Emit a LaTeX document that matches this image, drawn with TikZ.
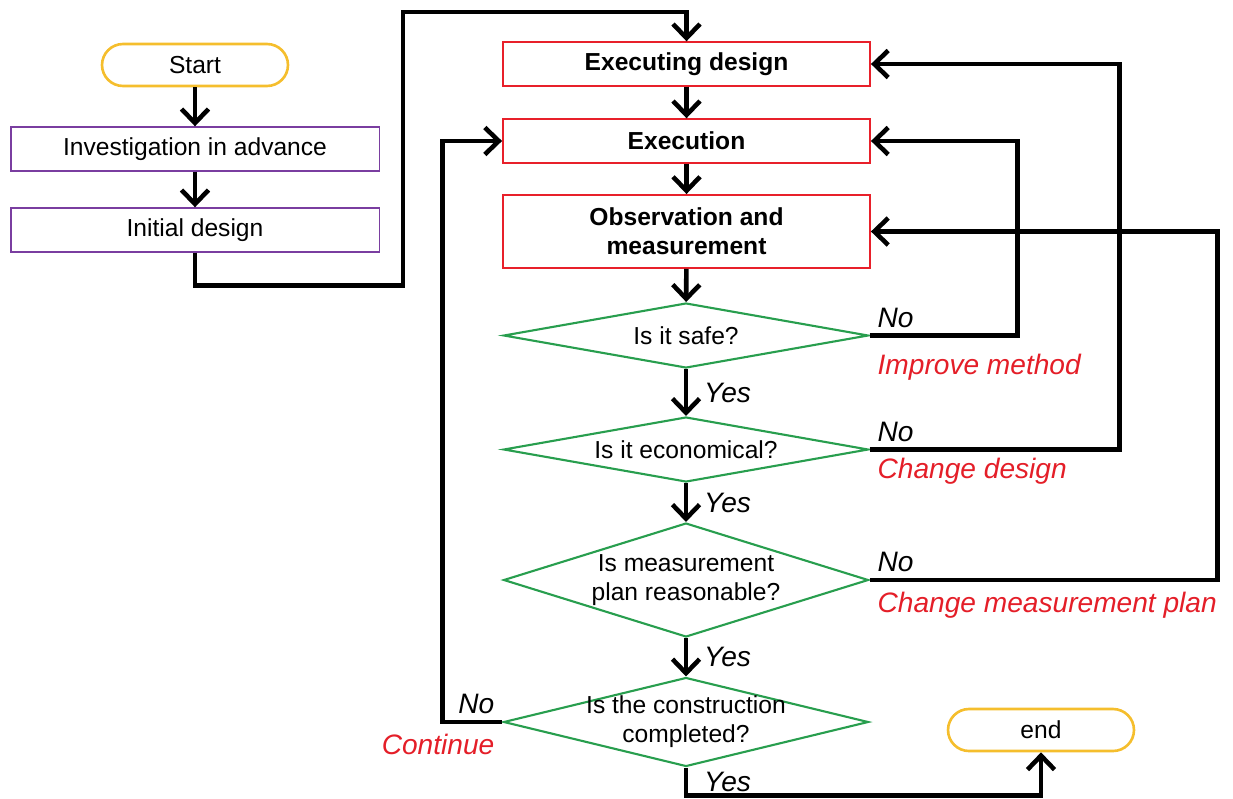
\documentclass[tikz,border=0pt]{standalone}
\usepackage{fontspec}
\setmainfont{Liberation Sans}
\usetikzlibrary{arrows.meta,shapes.geometric,positioning}
\definecolor{termgold}{RGB}{245,190,45}
\definecolor{prepurple}{RGB}{122,62,160}
\definecolor{taskred}{RGB}{232,32,42}
\definecolor{checkgreen}{RGB}{40,158,78}
\definecolor{notered}{RGB}{228,30,40}

\begin{document}
\begin{tikzpicture}[x=0.02cm,y=-0.02cm,font=\fontsize{14}{16.5}\selectfont,
    terminal/.style={draw=termgold,line width=1.5pt,rounded corners=0.42cm,
      minimum width=3.72cm,minimum height=0.84cm,inner sep=0pt},
    prep/.style={draw=prepurple,line width=1.1pt,minimum width=7.38cm,
      minimum height=0.87cm,inner sep=0pt},
    task/.style={draw=taskred,line width=1.1pt,minimum width=7.34cm,
      minimum height=0.87cm,inner sep=0pt,align=center,font=\fontsize{14}{16.5}\selectfont\bfseries},
    check/.style={diamond,draw=checkgreen,line width=1.2pt,minimum width=7.3cm,inner sep=0pt},
    qtext/.style={align=center},
    flow/.style={line width=2.6pt,-{Straight Barb[length=2.8mm,width=5.4mm]}},
    answer/.style={font=\fontsize{16}{18}\selectfont\itshape},
    action/.style={answer,text=notered}]
  \useasboundingbox (0,0) rectangle (1233,798);

  % preparation column
  \node[terminal] (start) at (195,65) {Start};
  \node[prep] (invest) at (195,149) {Investigation in advance};
  \node[prep] (initial) at (195,230) {Initial design};

  % construction loop
  \node[task] (xdesign) at (686.5,64) {Executing design};
  \node[task] (exec) at (686.5,141) {Execution};
  \node[task,minimum height=1.46cm] (observe) at (686.5,231.5) {Observation and\\measurement};
  \node[check,minimum height=1.3cm,label={[qtext]center:Is it safe?}] (safe) at (686,335.5) {};
  \node[check,minimum height=1.3cm,label={[qtext]center:Is it economical?}] (econ) at (686,449.5) {};
  \node[check,minimum height=2.28cm,
    label={[qtext]center:Is measurement\\plan reasonable?}] (plan) at (686,580) {};
  \node[check,minimum height=1.78cm,
    label={[qtext]center:Is the construction\\completed?}] (done) at (686,722) {};
  \node[terminal] (end) at (1041,730) {end};

  \draw[flow] (start) -- (invest);
  \draw[flow] (invest) -- (initial);
  \draw[flow] (initial.south) -- ++(0,33) -| (403,12) -| (xdesign.north);
  \draw[flow] (xdesign) -- (exec);
  \draw[flow] (exec) -- (observe);
  \draw[flow] (observe) -- (safe);
  \draw[flow] (safe) -- node[answer,right=0.2cm]{Yes} (econ);
  \draw[flow] (econ) -- node[answer,right=0.2cm]{Yes} (plan);
  \draw[flow] (plan) -- node[answer,right=0.2cm]{Yes} (done);
  \draw[flow] (done.south) -- node[answer,right=0.2cm]{Yes} ++(0,28) -| (end.south);

  % feedback when a check fails
  \draw[flow] (safe.east) node[answer,above right]{No}
    node[action,below right=6pt and 0pt]{Improve method} -- ++(148,0) |- (exec.east);
  \draw[flow] (econ.east) node[answer,above right]{No}
    node[action,below right]{Change design} -- ++(250,0) |- (xdesign.east);
  \draw[flow] (plan.east) node[answer,above right]{No}
    node[action,below right=2pt and 0pt]{Change measurement plan} -- ++(348,0) |- (observe.east);
  \draw[flow] (done.west) node[answer,above left]{No}
    node[action,below left=2pt and 0pt]{Continue} -- ++(-60,0) |- (exec.west);
\end{tikzpicture}
\end{document}
